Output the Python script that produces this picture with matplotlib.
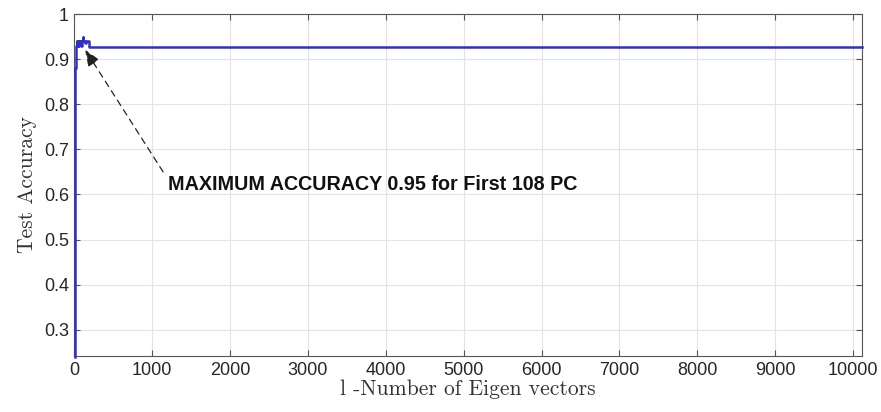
import matplotlib
matplotlib.use("Agg")
import matplotlib.pyplot as plt

# Test accuracy versus number of retained eigenvectors (principal components)
num_pc = [1, 3, 6, 10, 15, 20, 28, 36, 44, 52, 60, 68, 76, 84, 92, 100,
          108, 116, 124, 132, 140, 150, 160, 170, 185, 10116]
accuracy = [0.24, 0.60, 0.80, 0.88, 0.91, 0.93, 0.94, 0.93, 0.94, 0.93,
            0.94, 0.935, 0.94, 0.93, 0.94, 0.94, 0.95, 0.94, 0.94, 0.94,
            0.935, 0.94, 0.94, 0.94, 0.927, 0.927]

x_ticks = [0, 1000, 2000, 3000, 4000, 5000, 6000, 7000, 8000, 9000, 10000]
y_ticks = [0.3, 0.4, 0.5, 0.6, 0.7, 0.8, 0.9, 1.0]
y_tick_labels = ["0.3", "0.4", "0.5", "0.6", "0.7", "0.8", "0.9", "1"]

best_pc = 108
best_acc = 0.95

fig = plt.figure(figsize=(8.81, 4.12), dpi=100)
ax = fig.add_axes([0.0845, 0.136, 0.894, 0.830])

ax.plot(num_pc, accuracy, drawstyle="steps-post", color="#3030c4", lw=1.8,
        zorder=3, clip_on=False)

ax.set_xlim(0, 10116)
ax.set_ylim(0.242, 1.0)
ax.set_xticks(x_ticks)
ax.set_yticks(y_ticks)
ax.set_yticklabels(y_tick_labels)

ax.grid(True, color="#e3e3e3", lw=0.8)
ax.set_axisbelow(True)
for s in ax.spines.values():
    s.set_color("#555555")
    s.set_linewidth(0.8)
    s.set_zorder(2.5)
ax.tick_params(direction="in", top=True, right=True, length=4, width=0.8,
               color="#555555", labelsize=13, labelcolor="#262626", pad=4)
for lab in ax.get_xticklabels() + ax.get_yticklabels():
    lab.set_family("Liberation Sans")

ax.set_xlabel("l -Number of Eigen vectors", family="cmr10",
              fontsize=15.5, color="#333333", labelpad=1)
ax.set_ylabel("Test Accuracy", family="cmr10",
              fontsize=15.5, color="#333333", labelpad=5)

# dashed pointer to the best-accuracy step
ax.annotate("", xy=(137, 0.921), xytext=(1139, 0.650),
            arrowprops=dict(arrowstyle="-|>,head_length=1.0,head_width=0.4",
                            linestyle=(0, (5, 4)), color="#222222", lw=0.9,
                            shrinkA=0, shrinkB=0))
ax.text(1200, 0.623, f"MAXIMUM ACCURACY {best_acc} for First {best_pc} PC",
        fontsize=14.2, fontweight="bold", family="Liberation Sans",
        color="#111111", va="center", ha="left")

fig.savefig("out.png", dpi=100)
